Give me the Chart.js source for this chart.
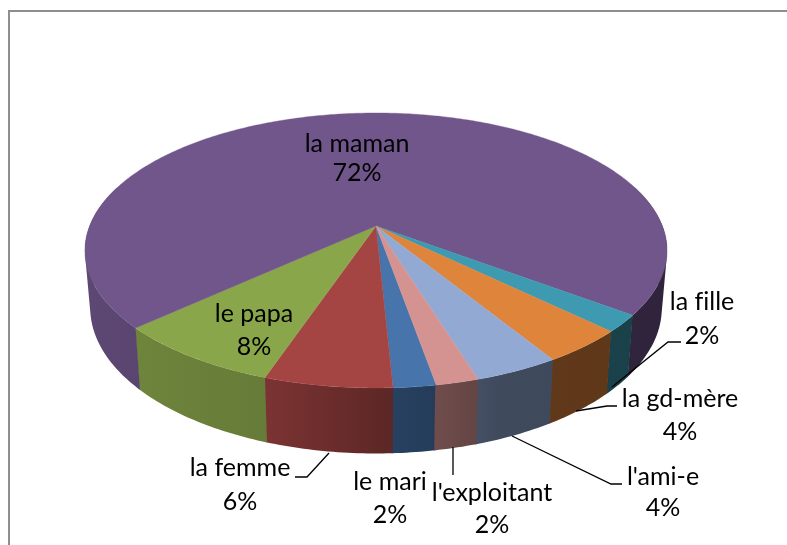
<!DOCTYPE html>
<html>
<head>
<meta charset="utf-8">
<style>
  html, body { margin: 0; padding: 0; background: #fff; overflow: hidden; }
  #frame { position: absolute; left: 8px; top: 10px; right: 0; bottom: 0; border-top: 2px solid #8e8e8e; border-left: 2px solid #8e8e8e; }
  #myChart { position: absolute; left: 0; top: 0; }
</style>
</head>
<body>
<div id="frame"></div>
<canvas id="myChart" width="787" height="545"></canvas>
<script src="https://cdn.jsdelivr.net/npm/chart.js@4/dist/chart.umd.min.js"></script>
<script>
// data, in the order of the sheet (clockwise from the blue slice)
var categories = ['le mari', 'la femme', 'le papa', 'la maman', 'la fille', 'la gd-mère', "l'ami-e", "l'exploitant"];
var percents = [2, 6, 8, 72, 2, 4, 4, 2];
var colors = ['#4674ab', '#a54543', '#8aa64b', '#71568c', '#3e9ab1', '#df843b', '#92a9d4', '#d49391'];

// where each label goes, same order as categories
var labelCenters = [[390, 482], [240, 468], [254, 314], [357, 144], [702, 302], [680, 399], [663, 477], [492, 493]];
var labelGaps = [33, 34, 33, 29, 34, 33, 31, 32];
var leaders = [
    [[295, 477], [307, 477], [329, 453]],
    [[453, 447], [453, 475]],
    [[622, 484], [611, 484], [512, 436]],
    [[617, 406], [607, 406], [576, 411]],
    [[681, 342], [668, 342], [612, 387]]
];

// tilted disc: unit circle -> screen, with perspective
var persp = { cx: 376, cy: 226, A: 286.4, B: 92.9, k: 0.178 };
var top3d = function (a) {
    var u = Math.cos(a), v = Math.sin(a), w = 1 - persp.k * v;
    return [persp.cx + persp.A * u / w, (persp.B * v + persp.cy) / w];
};
// bottom rim of the wall
var bottom3d = function (a) {
    var p = top3d(a);
    return [376 + (p[0] - 376) * 0.982, 453.5 + (p[1] - 388) * 1.06];
};

// wall gets darker to the right
var shadeStops = [[90, 0.82], [270, 0.74], [390, 0.56], [440, 0.52], [500, 0.44], [650, 0.42]];
var darken = function (hex, f) {
    var n = parseInt(hex.slice(1), 16);
    return 'rgb(' + Math.round((n >> 16) * f) + ',' + Math.round(((n >> 8) & 255) * f) + ',' + Math.round((n & 255) * f) + ')';
};
var wallFill = function (ctx, hex) {
    var g = ctx.createLinearGradient(90, 0, 650, 0);
    shadeStops.forEach(function (s) {
        g.addColorStop((s[0] - 90) / 560, darken(hex, s[1]));
    });
    return g;
};
// adds one quad to the path, always turning the same way so the fill has no holes
var addQuad = function (ctx, pts) {
    var area = 0;
    for (var i = 0; i < 4; i++) {
        var n = pts[(i + 1) % 4];
        area += pts[i][0] * n[1] - n[0] * pts[i][1];
    }
    if (area < 0) pts.reverse();
    ctx.moveTo(pts[0][0], pts[0][1]);
    ctx.lineTo(pts[1][0], pts[1][1]);
    ctx.lineTo(pts[2][0], pts[2][1]);
    ctx.lineTo(pts[3][0], pts[3][1]);
    ctx.closePath();
};

var pie3d = {
    id: 'pie3d',
    beforeDatasetDraw: function (chart, args) {
        var ctx = chart.ctx;
        var arcs = args.meta.data;
        ctx.save();
        // walls first, the top face covers the back part
        arcs.forEach(function (arc, i) {
            var end = arc.endAngle + 0.003;
            var steps = Math.ceil((end - arc.startAngle) / 0.015);
            ctx.fillStyle = wallFill(ctx, colors[i]);
            ctx.beginPath();
            for (var s = 0; s < steps; s++) {
                var a0 = arc.startAngle + (end - arc.startAngle) * s / steps;
                var a1 = arc.startAngle + (end - arc.startAngle) * (s + 1) / steps;
                if (Math.sin(a0) < -0.3 && Math.sin(a1) < -0.3) continue;
                addQuad(ctx, [top3d(a0), top3d(a1), bottom3d(a1), bottom3d(a0)]);
            }
            ctx.fill();
        });
        // top face
        arcs.forEach(function (arc, i) {
            var steps = Math.ceil((arc.endAngle - arc.startAngle) / 0.01);
            ctx.fillStyle = colors[i];
            ctx.strokeStyle = colors[i];
            ctx.lineWidth = 0.4;
            ctx.beginPath();
            ctx.moveTo(persp.cx, persp.cy);
            for (var s = 0; s <= steps; s++) {
                var p = top3d(arc.startAngle + (arc.endAngle - arc.startAngle) * s / steps);
                ctx.lineTo(p[0], p[1]);
            }
            ctx.closePath();
            ctx.fill();
            ctx.stroke();
        });
        ctx.restore();
        return false;
    },
    afterDatasetsDraw: function (chart) {
        var ctx = chart.ctx;
        ctx.save();
        ctx.strokeStyle = '#000';
        ctx.lineWidth = 1.3;
        leaders.forEach(function (line) {
            ctx.beginPath();
            line.forEach(function (p, i) {
                if (i === 0) ctx.moveTo(p[0], p[1]); else ctx.lineTo(p[0], p[1]);
            });
            ctx.stroke();
        });
        ctx.fillStyle = '#000';
        ctx.font = '25px Lato';
        ctx.letterSpacing = '0.01px'; // keeps "fi" from turning into a ligature
        ctx.textAlign = 'center';
        ctx.textBaseline = 'middle';
        categories.forEach(function (name, i) {
            ctx.fillText(name, labelCenters[i][0], labelCenters[i][1]);
            ctx.fillText(percents[i] + '%', labelCenters[i][0], labelCenters[i][1] + labelGaps[i]);
        });
        ctx.restore();
    }
};

var myChart = new Chart(document.getElementById('myChart').getContext('2d'), {
    type: 'pie',
    data: {
        labels: categories,
        datasets: [{ data: percents, backgroundColor: colors, borderWidth: 0 }]
    },
    options: {
        responsive: false,
        animation: false,
        rotation: 170,
        plugins: { legend: { display: false }, tooltip: { enabled: false } }
    },
    plugins: [pie3d]
});
</script>
</body>
</html>
